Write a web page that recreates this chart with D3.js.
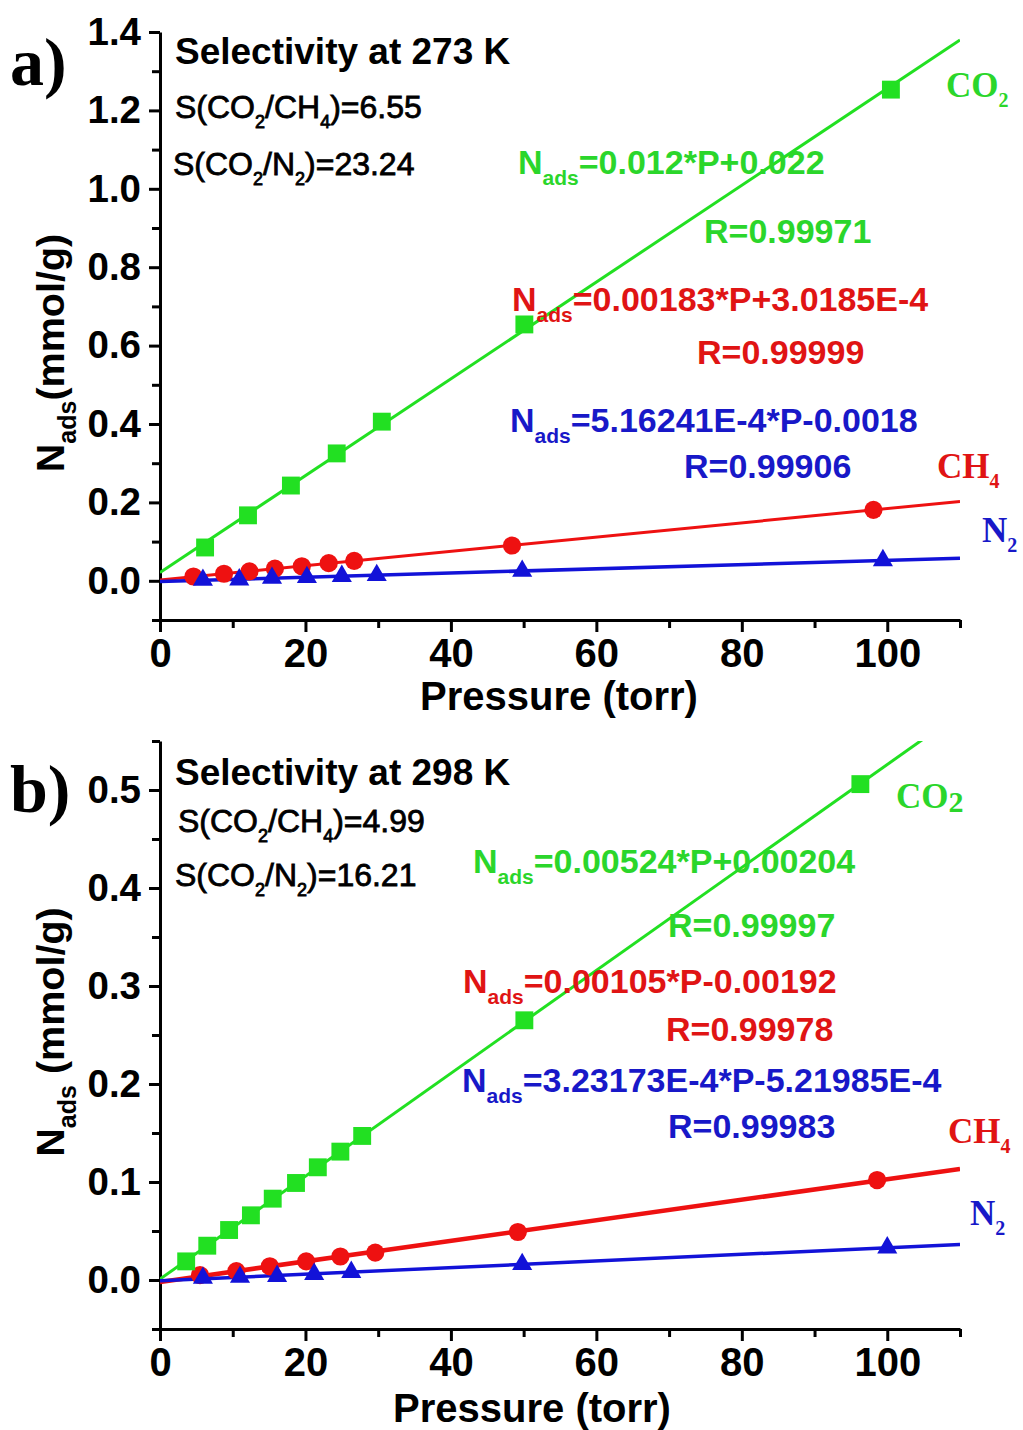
<!DOCTYPE html>
<html><head><meta charset="utf-8">
<script src="https://cdn.jsdelivr.net/npm/d3@7"></script>
<style>body{margin:0;background:#fff}svg{display:block}</style>
</head><body>
<svg id="c" width="1023" height="1430"></svg>
<script>
// ---------- DATA ----------
// Panel a) 273 K
const co2P_273 = [6.2, 12.1, 18.0, 24.3, 30.5, 50.1, 100.5];
const co2N_273 = [0.085, 0.167, 0.243, 0.325, 0.406, 0.654, 1.253];
const ch4P_273 = [4.6, 8.8, 12.3, 15.8, 19.5, 23.2, 26.7, 48.4, 98.1];
const ch4N_273 = [0.011, 0.018, 0.024, 0.031, 0.037, 0.045, 0.051, 0.090, 0.181];
const n2P_273 = [5.9, 10.9, 15.4, 20.2, 25.0, 29.8, 49.8, 99.4];
const n2N_273 = [0.002, 0.003, 0.007, 0.009, 0.012, 0.014, 0.025, 0.052];
// Panel b) 298 K
const co2P_298 = [3.6, 6.5, 9.5, 12.5, 15.5, 18.7, 21.7, 24.8, 27.8, 50.1, 96.3];
const co2N_298 = [0.019, 0.035, 0.051, 0.066, 0.083, 0.099, 0.115, 0.131, 0.147, 0.265, 0.506];
const ch4P_298 = [5.5, 10.5, 15.1, 20.1, 24.8, 29.6, 49.2, 98.6];
const ch4N_298 = [0.005, 0.009, 0.014, 0.019, 0.024, 0.028, 0.049, 0.102];
const n2P_298 = [5.9, 11.0, 16.1, 21.2, 26.3, 49.8, 100.0];
const n2N_298 = [0.002, 0.003, 0.004, 0.006, 0.008, 0.016, 0.033];

const xTicks = [0, 20, 40, 60, 80, 100];
const yTicks_273 = [0.0, 0.2, 0.4, 0.6, 0.8, 1.0, 1.2, 1.4];
const yTicks_298 = [0.0, 0.1, 0.2, 0.3, 0.4, 0.5];

const titles = ["Selectivity at 273 K", "Selectivity at 298 K"];
const selCH4 = ["6.55", "4.99"];
const selN2 = ["23.24", "16.21"];
const eqCO2 = ["=0.012*P+0.022", "=0.00524*P+0.00204"];
const eqCH4 = ["=0.00183*P+3.0185E-4", "=0.00105*P-0.00192"];
const eqN2 = ["=5.16241E-4*P-0.0018", "=3.23173E-4*P-5.21985E-4"];
const rCO2 = ["R=0.99971", "R=0.99997"];
const rCH4 = ["R=0.99999", "R=0.99978"];
const rN2 = ["R=0.99906", "R=0.99983"];
const panelLetters = ["a)", "b)"];

// ---------- STYLE ----------
const GREEN = "#22e022", GREEN_T = "#2bd62b";
const RED = "#ee1111", RED_T = "#e01414";
const BLUE = "#1212d8", BLUE_T = "#1818c8";
const SANS = "'Liberation Sans', Arial, sans-serif";
const SERIF = "'Liberation Serif', 'Times New Roman', serif";

const svg = d3.select("#c");

function rich(g, x, y, parts, o) {
  const t = g.append("text").attr("x", x).attr("y", y)
    .attr("font-family", o.family || SANS)
    .attr("font-weight", o.weight || "bold")
    .attr("font-size", o.size)
    .attr("fill", o.color || "#000");
  if (o.stroke) t.attr("stroke", o.color || "#000").attr("stroke-width", o.stroke);
  if (o.anchor) t.attr("text-anchor", o.anchor);
  if (o.transform) t.attr("transform", o.transform);
  let shift = 0;
  parts.forEach(p => {
    const isSub = Array.isArray(p);
    const txt = isSub ? p[0] : p;
    const want = isSub ? (o.subDy || o.size * 0.3) : 0;
    const ts = t.append("tspan").text(txt).attr("dy", want - shift);
    if (isSub) ts.attr("font-size", o.subSize || o.size * 0.6);
    shift = want;
  });
  return t;
}

function linfit(xs, ys) {
  const n = xs.length, mx = d3.mean(xs), my = d3.mean(ys);
  let sxy = 0, sxx = 0;
  for (let i = 0; i < n; i++) { sxy += (xs[i] - mx) * (ys[i] - my); sxx += (xs[i] - mx) ** 2; }
  const b = sxy / sxx; return { b, a: my - b * mx };
}

const panels = [
  { idx: 0, top: 32, bottom: 620, yDom: [-0.1, 1.4], yTicks: yTicks_273, yMinor: 0.1, fmt: d3.format(".1f"),
    co2: [co2P_273, co2N_273], ch4: [ch4P_273, ch4N_273], n2: [n2P_273, n2N_273] },
  { idx: 1, top: 741, bottom: 1329, yDom: [-0.05, 0.55], yTicks: yTicks_298, yMinor: 0.05, fmt: d3.format(".1f"),
    co2: [co2P_298, co2N_298], ch4: [ch4P_298, ch4N_298], n2: [n2P_298, n2N_298] }
];

panels.forEach(pn => {
  const g = svg.append("g");
  const x = d3.scaleLinear().domain([0, 110]).range([160, 960]);
  const y = d3.scaleLinear().domain(pn.yDom).range([pn.bottom, pn.top]);
  const clipId = "clip" + pn.idx;
  svg.append("clipPath").attr("id", clipId).append("rect")
    .attr("x", 160).attr("y", pn.top).attr("width", 800).attr("height", pn.bottom - pn.top);

  // minor ticks
  const xMinor = d3.range(0, 111, 10).filter(v => !xTicks.includes(v));
  const yMinor = [];
  for (let v = pn.yDom[0]; v <= pn.yDom[1] + 1e-9; v += pn.yMinor) {
    const r = Math.round(v * 100) / 100;
    if (!pn.yTicks.some(t => Math.abs(t - r) < 1e-9)) yMinor.push(r);
  }
  g.append("g").attr("transform", `translate(0,${pn.bottom})`)
    .call(d3.axisBottom(x).tickValues(xMinor).tickSize(8).tickFormat(""))
    .call(a => { a.select(".domain").remove(); a.selectAll("line").attr("stroke-width", 3); });
  g.append("g").attr("transform", `translate(160,0)`)
    .call(d3.axisLeft(y).tickValues(yMinor).tickSize(8).tickFormat(""))
    .call(a => { a.select(".domain").remove(); a.selectAll("line").attr("stroke-width", 3); });

  // major axes
  g.append("g").attr("transform", `translate(0,${pn.bottom})`)
    .call(d3.axisBottom(x).tickValues(xTicks).tickSize(12).tickPadding(7).tickSizeOuter(0).tickFormat(d3.format("d")))
    .call(a => {
      a.select(".domain").attr("stroke-width", 3);
      a.selectAll("line").attr("stroke-width", 3);
      a.selectAll("text").attr("font-family", SANS).attr("font-weight", "bold").attr("font-size", 40).attr("fill", "#000");
    });
  g.append("g").attr("transform", `translate(160,0)`)
    .call(d3.axisLeft(y).tickValues(pn.yTicks).tickSize(11).tickPadding(8).tickSizeOuter(0).tickFormat(pn.fmt))
    .call(a => {
      a.select(".domain").attr("stroke-width", 3);
      a.selectAll("line").attr("stroke-width", 3);
      a.selectAll("text").attr("font-family", SANS).attr("font-weight", "bold").attr("font-size", 38.5).attr("fill", "#000");
    });

  // fit lines
  const series = [
    { d: pn.co2, c: GREEN, shape: "square", w: 3 },
    { d: pn.ch4, c: RED, shape: "circle", w: pn.idx ? 4.5 : 3 },
    { d: pn.n2, c: BLUE, shape: "triangle", w: 3.5 }
  ];
  const pg = g.append("g").attr("clip-path", `url(#${clipId})`);
  series.forEach(s => {
    const f = linfit(s.d[0], s.d[1]);
    pg.append("line")
      .attr("x1", x(0)).attr("y1", y(f.a))
      .attr("x2", x(110)).attr("y2", y(f.a + f.b * 110))
      .attr("stroke", s.c).attr("stroke-width", s.w);
  });
  // markers (draw order: CH4, N2, CO2)
  [series[1], series[2], series[0]].forEach(s => {
    const pts = s.d[0].map((p, i) => [p, s.d[1][i]]);
    const sym = s.shape === "square" ? d3.symbolSquare : s.shape === "circle" ? d3.symbolCircle : d3.symbolTriangle;
    const size = s.shape === "square" ? 320 : s.shape === "circle" ? 260 : 175;
    g.append("g").selectAll("path").data(pts).join("path")
      .attr("transform", d => `translate(${x(d[0])},${y(d[1])})`)
      .attr("d", d3.symbol(sym, size)).attr("fill", s.c);
  });

  // axis titles
  const cy = pn.idx ? 1032 : 353;
  rich(g, 0, 0, pn.idx ? ["N", ["ads"], " (mmol/g)"] : ["N", ["ads"], "(mmol/g)"],
    { size: 39.5, subSize: 25, subDy: 12, anchor: "middle", transform: `translate(64,${cy}) rotate(-90)` });
  rich(g, pn.idx ? 532 : 559, pn.idx ? 1422 : 710, ["Pressure (torr)"], { size: 40, anchor: "middle" });

  // panel letter
  rich(g, 10, pn.idx ? 812 : 85, [panelLetters[pn.idx]], { family: SERIF, size: 68 });

  // selectivity texts
  const t0 = pn.idx ? 785 : 64;
  rich(g, 175, t0, [titles[pn.idx]], { size: 37 });
  rich(g, pn.idx ? 178 : 175, pn.idx ? 832 : 118, ["S(CO", ["2"], "/CH", ["4"], ")=" + selCH4[pn.idx]],
    { size: 32, weight: "normal", stroke: 0.8, subSize: 18, subDy: 10 });
  rich(g, pn.idx ? 175 : 173, pn.idx ? 886 : 175, ["S(CO", ["2"], "/N", ["2"], ")=" + selN2[pn.idx]],
    { size: 32, weight: "normal", stroke: 0.8, subSize: 18, subDy: 10 });

  // equations
  const eq = pn.idx
    ? { g: [473, 873], gr: [668, 937], r: [463, 993], rr: [666, 1041], b: [462, 1092], br: [668, 1138] }
    : { g: [518, 174], gr: [704, 243], r: [512, 311], rr: [697, 364], b: [510, 432], br: [684, 478] };
  const eo = c => ({ size: 34, color: c, subSize: 21, subDy: 11 });
  rich(g, eq.g[0], eq.g[1], ["N", ["ads"], eqCO2[pn.idx]], eo(GREEN_T));
  rich(g, eq.gr[0], eq.gr[1], [rCO2[pn.idx]], eo(GREEN_T));
  rich(g, eq.r[0], eq.r[1], ["N", ["ads"], eqCH4[pn.idx]], eo(RED_T));
  rich(g, eq.rr[0], eq.rr[1], [rCH4[pn.idx]], eo(RED_T));
  rich(g, eq.b[0], eq.b[1], ["N", ["ads"], eqN2[pn.idx]], eo(BLUE_T));
  rich(g, eq.br[0], eq.br[1], [rN2[pn.idx]], eo(BLUE_T));

  // gas labels (serif)
  const so = c => ({ family: SERIF, size: 35, color: c, subSize: 20, subDy: 10 });
  if (pn.idx) {
    rich(g, 896, 808, ["CO", ["2"]], { family: SERIF, size: 35, color: GREEN_T, subSize: 30, subDy: 4 });
    rich(g, 948, 1143, ["CH", ["4"]], so(RED_T));
    rich(g, 970, 1225, ["N", ["2"]], so(BLUE_T));
  } else {
    rich(g, 946, 97, ["CO", ["2"]], so(GREEN_T));
    rich(g, 937, 478, ["CH", ["4"]], so(RED_T));
    rich(g, 982, 542, ["N", ["2"]], so(BLUE_T));
  }
});
</script>
</body></html>
